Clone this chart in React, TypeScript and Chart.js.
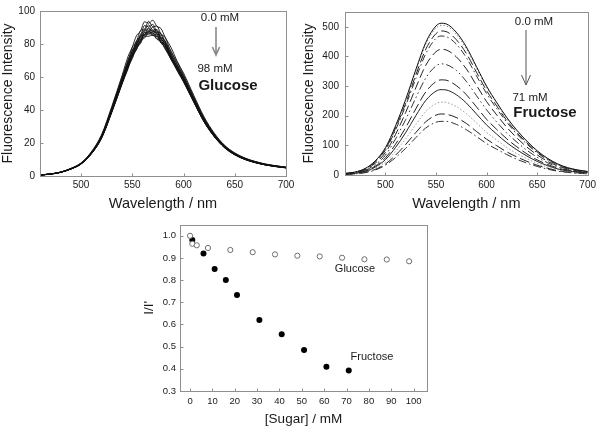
import React, { useEffect, useRef } from 'react';
import { Chart, registerables } from 'chart.js';

Chart.register(...registerables);

const FONT = "'Liberation Sans', Arial, Helvetica, sans-serif";
const TEXT = '#1a1a1a';
const FRAME = '#8f8f8f';

// ---------- Glucose spectra (top-left) ----------
const glucoseWavelengths = [460, 470, 480, 490, 500, 510, 520, 530, 540, 546, 550, 554, 558, 562, 566, 570, 574, 578, 582, 588, 594, 600, 610, 620, 630, 640, 650, 660, 670, 680, 690, 700];
const glucoseConcentrations = [0, 1, 3, 8, 18, 28, 38, 48, 58, 68, 78, 88, 98];
const glucose00 = [0.6, 1.2, 2.4, 4.6, 7.9, 14.6, 25, 42.1, 60.8, 72.6, 78.0, 84.9, 87.7, 93.5, 92.6, 94.4, 90.7, 89.4, 84.2, 77.7, 69.3, 62.4, 48.9, 35.9, 26, 18.7, 14, 10.9, 8.8, 7.3, 6.2, 5.4];
const glucose01 = [0.6, 1.2, 2.3, 4.5, 7.8, 14.3, 24.5, 41.3, 59.7, 69.8, 78.0, 81.3, 88.1, 89.1, 93.8, 90.4, 90.9, 86.0, 84.0, 75.0, 68.9, 61.2, 47.9, 35.2, 25.5, 18.4, 13.8, 10.7, 8.7, 7.1, 6.1, 5.3];
const glucose03 = [0.6, 1.2, 2.3, 4.4, 7.7, 14.1, 24.2, 40.9, 59.1, 70.8, 75.4, 81.9, 84.6, 91.2, 90.3, 91.9, 87.5, 86.4, 81.5, 75.6, 67.4, 60.6, 47.5, 34.8, 25.3, 18.2, 13.6, 10.6, 8.6, 7.1, 6.1, 5.3];
const glucose08 = [0.6, 1.2, 2.3, 4.4, 7.6, 14, 24, 40.5, 58.5, 68.6, 76.2, 79.4, 85.9, 88.0, 91.6, 88.3, 88.8, 84.1, 82.1, 73.3, 67.5, 60, 47, 34.5, 25, 18, 13.5, 10.5, 8.5, 7, 6, 5.2];
const glucose18 = [0.6, 1.2, 2.3, 4.4, 7.5, 13.9, 23.8, 40.1, 57.9, 69.2, 73.5, 80.7, 83.6, 88.7, 87.6, 90.3, 86.2, 85.4, 80.2, 74.1, 65.7, 59.4, 46.5, 34.2, 24.8, 17.8, 13.4, 10.4, 8.4, 6.9, 5.9, 5.1];
const glucose28 = [0.6, 1.2, 2.3, 4.3, 7.5, 13.8, 23.6, 39.9, 57.6, 67.3, 75.7, 78.9, 84.9, 85.6, 89.8, 87.4, 88.1, 82.7, 81.0, 72.3, 66.4, 59.1, 46.3, 34, 24.6, 17.7, 13.3, 10.3, 8.4, 6.9, 5.9, 5.1];
const glucose38 = [0.6, 1.2, 2.3, 4.3, 7.4, 13.7, 23.5, 39.7, 57.3, 68.1, 73.2, 80.3, 82.3, 87.4, 89.1, 86.4, 87.2, 82.9, 80.7, 71.6, 66.2, 58.8, 46.1, 33.8, 24.5, 17.6, 13.2, 10.3, 8.3, 6.9, 5.9, 5.1];
const glucose48 = [0.6, 1.2, 2.2, 4.3, 7.4, 13.7, 23.4, 39.5, 57, 66.4, 74.2, 77.8, 84.4, 85.5, 87.4, 88.5, 84.7, 83.8, 78.9, 72.7, 65.0, 58.5, 45.8, 33.6, 24.4, 17.6, 13.2, 10.2, 8.3, 6.8, 5.9, 5.1];
const glucose58 = [0.6, 1.2, 2.2, 4.3, 7.4, 13.6, 23.3, 39.3, 56.7, 67.6, 72.7, 79.0, 81.3, 87.1, 86.6, 87.4, 86.4, 81.7, 79.5, 71.3, 65.6, 58.2, 45.6, 33.5, 24.3, 17.5, 13.1, 10.2, 8.2, 6.8, 5.8, 5.0];
const glucose68 = [0.6, 1.2, 2.2, 4.2, 7.3, 13.5, 23.2, 39.1, 56.5, 66.1, 73.8, 76.7, 82.8, 84.8, 88.1, 85.5, 85.6, 80.9, 79.5, 71.0, 65.0, 57.9, 45.4, 33.3, 24.1, 17.4, 13, 10.1, 8.2, 6.8, 5.8, 5.0];
const glucose78 = [0.6, 1.2, 2.2, 4.2, 7.3, 13.4, 23, 38.9, 56.2, 66.8, 71.8, 78.1, 80.7, 86.0, 85.9, 86.8, 83.3, 82.3, 77.6, 71.6, 63.9, 57.6, 45.1, 33.1, 24, 17.3, 13, 10.1, 8.2, 6.7, 5.8, 5.0];
const glucose88 = [0.6, 1.1, 2.2, 4.2, 7.3, 13.4, 22.9, 38.7, 55.9, 65.1, 72.6, 76.3, 82.2, 83.6, 86.8, 85.1, 84.6, 80.5, 78.3, 70.4, 64.4, 57.3, 44.9, 32.9, 23.9, 17.2, 12.9, 10, 8.1, 6.7, 5.7, 5.0];
const glucose98 = [0.6, 1.1, 2.2, 4.2, 7.2, 13.3, 22.8, 38.5, 55.6, 66.0, 71.1, 77.2, 80.3, 84.7, 84.7, 85.5, 82.9, 81.4, 77.0, 70.6, 63.5, 57, 44.7, 32.8, 23.8, 17.1, 12.8, 10, 8.1, 6.7, 5.7, 4.9];
const glucoseSpectra = [glucose00, glucose01, glucose03, glucose08, glucose18, glucose28, glucose38, glucose48, glucose58, glucose68, glucose78, glucose88, glucose98];

// ---------- Fructose spectra (top-right) ----------
const fructoseWavelengths = [460, 470, 480, 490, 500, 510, 520, 530, 540, 550, 555, 560, 570, 580, 590, 600, 610, 620, 630, 640, 650, 660, 670, 680, 690, 700];
const fructoseConcentrations = [0, 1, 6, 11, 16, 21, 31, 41, 51, 61, 71];
const fructose00 = [5, 10, 22, 48, 92, 166, 255, 355, 448, 503, 512, 510, 482, 432, 366, 300, 245, 194, 151, 114, 82, 57, 38, 25, 17, 12];
const fructose01 = [5, 10, 22, 47, 91, 164, 251, 350, 442, 496, 505, 503, 475, 426, 361, 296, 242, 191, 149, 112, 81, 56, 37, 25, 17, 12];
const fructose06 = [5, 9, 21, 46, 87, 158, 242, 337, 425, 477, 486, 484, 457, 410, 347, 285, 233, 184, 143, 108, 78, 54, 36, 24, 16, 11];
const fructose11 = [5, 9, 20, 44, 84, 152, 234, 325, 410, 461, 469, 467, 442, 396, 335, 275, 224, 178, 138, 104, 75, 52, 35, 23, 16, 11];
const fructose16 = [4, 8, 18, 40, 76, 137, 211, 294, 371, 416, 424, 422, 399, 358, 303, 248, 203, 161, 125, 94, 68, 47, 31, 21, 14, 10];
const fructose21 = [4, 7, 16, 35, 67, 122, 187, 260, 328, 368, 375, 373, 353, 316, 268, 220, 179, 142, 111, 83, 60, 42, 28, 18, 12, 9];
const fructose31 = [3, 6, 14, 30, 58, 104, 160, 223, 281, 315, 321, 320, 302, 271, 230, 188, 154, 122, 95, 71, 51, 36, 24, 16, 11, 8];
const fructose41 = [3, 6, 12, 27, 52, 93, 143, 200, 252, 283, 288, 287, 271, 243, 206, 169, 138, 109, 85, 64, 46, 32, 21, 14, 10, 7];
const fructose51 = [2, 5, 11, 23, 44, 80, 122, 170, 215, 241, 246, 245, 231, 207, 176, 144, 118, 93, 72, 55, 39, 27, 18, 12, 8, 6];
const fructose61 = [2, 4, 9, 19, 37, 67, 103, 143, 180, 202, 206, 205, 194, 174, 147, 121, 99, 78, 61, 46, 33, 23, 15, 10, 7, 5];
const fructose71 = [2, 4, 8, 17, 33, 59, 90, 126, 159, 178, 181, 181, 171, 153, 130, 106, 87, 69, 53, 40, 29, 20, 13, 9, 6, 4];
const fructoseSpectra = [fructose00, fructose01, fructose06, fructose11, fructose16, fructose21, fructose31, fructose41, fructose51, fructose61, fructose71];

// ---------- Quenching ratio (bottom) ----------
const glucoseSugar = [0, 1, 3, 8, 18, 28, 38, 48, 58, 68, 78, 88, 98];
const glucoseRatio = [1.0, 0.964, 0.957, 0.945, 0.936, 0.926, 0.916, 0.910, 0.907, 0.901, 0.894, 0.893, 0.885];
const fructoseSugar = [1, 6, 11, 16, 21, 31, 41, 51, 61, 71];
const fructoseRatio = [0.981, 0.920, 0.850, 0.801, 0.733, 0.620, 0.556, 0.485, 0.409, 0.392];

// ---------- Tick labels ----------
const spectrumXTicks = [500, 550, 600, 650, 700];
const glucoseYTicks = [0, 20, 40, 60, 80, 100];
const fructoseYTicks = [0, 100, 200, 300, 400, 500];
const sugarXTicks = [0, 10, 20, 30, 40, 50, 60, 70, 80, 90, 100];
const ratioYTicks = [0.3, 0.4, 0.5, 0.6, 0.7, 0.8, 0.9, 1.0];

// line styles of the fructose curves, top to bottom
const fructoseStyles = [
  { dash: [], color: '#111' },
  { dash: [1.5, 2], color: '#888' },
  { dash: [9, 4], color: '#222' },
  { dash: [7, 3, 1.5, 3], color: '#333' },
  { dash: [9, 4], color: '#222' },
  { dash: [8, 3, 1.5, 3, 1.5, 3], color: '#333' },
  { dash: [10, 4], color: '#222' },
  { dash: [], color: '#222' },
  { dash: [1.5, 2], color: '#999' },
  { dash: [10, 4], color: '#222' },
  { dash: [8, 3, 1.5, 3], color: '#333' },
];

const framePlugin = {
  id: 'frameBox',
  afterDraw(chart: any) {
    const { ctx, chartArea: a, scales } = chart;
    const l = Math.round(a.left) + 0.5;
    const t = Math.round(a.top) + 0.5;
    const r = Math.round(a.right) + 0.5;
    const b = Math.round(a.bottom) + 0.5;
    ctx.save();
    ctx.strokeStyle = FRAME;
    ctx.lineWidth = 1;
    ctx.strokeRect(l, t, r - l, b - t);
    ctx.beginPath();
    scales.x.ticks.forEach((tk: any) => {
      const px = Math.round(scales.x.getPixelForValue(tk.value)) + 0.5;
      ctx.moveTo(px, b);
      ctx.lineTo(px, b - 3);
    });
    scales.y.ticks.forEach((tk: any) => {
      const py = Math.round(scales.y.getPixelForValue(tk.value)) + 0.5;
      ctx.moveTo(l, py);
      ctx.lineTo(l + 3, py);
    });
    ctx.stroke();
    ctx.restore();
  },
};

type Note =
  | { kind: 'text'; x: number; y: number; text: string; size: number; bold?: boolean }
  | { kind: 'arrow'; x: number; y1: number; y2: number; color: string; width: number; head: number };

function notesPlugin(notes: Note[]) {
  return {
    id: 'notes',
    afterDraw(chart: any) {
      const ctx = chart.ctx;
      ctx.save();
      notes.forEach((n) => {
        if (n.kind === 'text') {
          ctx.font = `${n.bold ? 'bold ' : ''}${n.size}px ${FONT}`;
          ctx.fillStyle = TEXT;
          ctx.textAlign = 'center';
          ctx.textBaseline = 'middle';
          ctx.fillText(n.text, n.x, n.y);
        } else {
          ctx.strokeStyle = n.color;
          ctx.lineWidth = n.width;
          ctx.beginPath();
          ctx.moveTo(n.x, n.y1);
          ctx.lineTo(n.x, n.y2);
          ctx.moveTo(n.x - n.head * 0.45, n.y2 - n.head);
          ctx.lineTo(n.x, n.y2);
          ctx.lineTo(n.x + n.head * 0.45, n.y2 - n.head);
          ctx.stroke();
        }
      });
      ctx.restore();
    },
  };
}

function axis(o: {
  min: number; max: number; ticks: number[]; horizontal: boolean; size: number;
  title: string; titleSize: number; tickSize: number; pad: number; titlePad: number;
  fmt?: (v: number) => string;
}) {
  return {
    type: 'linear',
    min: o.min,
    max: o.max,
    grid: { display: false, drawTicks: false },
    border: { display: false },
    ticks: {
      font: { family: FONT, size: o.tickSize },
      color: TEXT,
      padding: o.pad,
      maxRotation: 0,
      autoSkip: false,
      callback: (v: any) => (o.fmt ? o.fmt(Number(v)) : String(v)),
    },
    title: {
      display: true,
      text: o.title,
      color: TEXT,
      font: { family: FONT, size: o.titleSize },
      padding: o.horizontal ? { top: 0, bottom: o.titlePad } : { top: o.titlePad, bottom: 0 },
    },
    afterBuildTicks: (s: any) => {
      s.ticks = o.ticks.map((v) => ({ value: v }));
    },
    afterFit: (s: any) => {
      if (o.horizontal) s.height = o.size;
      else s.width = o.size;
    },
  };
}

function baseOptions(padding: any, x: any, y: any) {
  return {
    responsive: false,
    animation: false,
    events: [],
    layout: { padding },
    plugins: { legend: { display: false }, tooltip: { enabled: false } },
    scales: { x, y },
  };
}

function glucoseConfig() {
  return {
    type: 'line',
    data: {
      datasets: glucoseSpectra.map((s, i) => ({
        label: `${glucoseConcentrations[i]} mM`,
        data: s.map((v, j) => ({ x: glucoseWavelengths[j], y: v })),
        borderColor: '#111',
        borderWidth: 0.9,
        pointRadius: 0,
        cubicInterpolationMode: 'monotone',
        fill: false,
      })),
    },
    options: baseOptions(
      { top: 4, right: 14, left: 0, bottom: 0 },
      axis({ min: 460, max: 700, ticks: spectrumXTicks, horizontal: true, size: 39, title: 'Wavelength / nm', titleSize: 14.5, tickSize: 10, pad: 3, titlePad: 2 }),
      axis({ min: 0, max: 100, ticks: glucoseYTicks, horizontal: false, size: 40, title: 'Fluorescence Intensity', titleSize: 14, tickSize: 10, pad: 5, titlePad: 0 })
    ),
    plugins: [
      framePlugin,
      notesPlugin([
        { kind: 'text', x: 220, y: 18, text: '0.0 mM', size: 11.5 },
        { kind: 'arrow', x: 216, y1: 27, y2: 55, color: '#8a8a8a', width: 1.6, head: 8 },
        { kind: 'text', x: 215, y: 69, text: '98 mM', size: 11.5 },
        { kind: 'text', x: 228, y: 86, text: 'Glucose', size: 15, bold: true },
      ]),
    ],
  };
}

function fructoseConfig() {
  return {
    type: 'line',
    data: {
      datasets: fructoseSpectra.map((s, i) => ({
        label: `${fructoseConcentrations[i]} mM`,
        data: s.map((v, j) => ({ x: fructoseWavelengths[j], y: v })),
        borderColor: fructoseStyles[i].color,
        borderDash: fructoseStyles[i].dash,
        borderWidth: 1,
        pointRadius: 0,
        cubicInterpolationMode: 'monotone',
        fill: false,
      })),
    },
    options: baseOptions(
      { top: 4, right: 8, left: 0, bottom: 0 },
      axis({ min: 460, max: 700, ticks: spectrumXTicks, horizontal: true, size: 40, title: 'Wavelength / nm', titleSize: 14.5, tickSize: 10, pad: 4, titlePad: 2 }),
      axis({ min: 0, max: 550, ticks: fructoseYTicks, horizontal: false, size: 45, title: 'Fluorescence Intensity', titleSize: 14, tickSize: 10, pad: 6, titlePad: 1 })
    ),
    plugins: [
      framePlugin,
      notesPlugin([
        { kind: 'text', x: 234, y: 22, text: '0.0 mM', size: 11.5 },
        { kind: 'arrow', x: 226, y1: 30, y2: 85, color: '#555', width: 1, head: 10 },
        { kind: 'text', x: 230, y: 98, text: '71 mM', size: 11.5 },
        { kind: 'text', x: 245, y: 113, text: 'Fructose', size: 15, bold: true },
      ]),
    ],
  };
}

function ratioConfig() {
  return {
    type: 'scatter',
    data: {
      datasets: [
        {
          label: 'Glucose',
          data: glucoseSugar.map((x, i) => ({ x, y: glucoseRatio[i] })),
          pointRadius: 2.6,
          pointBorderWidth: 1,
          borderColor: '#6e6e6e',
          backgroundColor: '#ffffff',
          showLine: false,
        },
        {
          label: 'Fructose',
          data: fructoseSugar.map((x, i) => ({ x, y: fructoseRatio[i] })),
          pointRadius: 3,
          pointBorderWidth: 0,
          borderColor: '#000',
          backgroundColor: '#000',
          showLine: false,
        },
      ],
    },
    options: baseOptions(
      { top: 4, right: 13, left: 0, bottom: 0 },
      axis({ min: -4.5, max: 106, ticks: sugarXTicks, horizontal: true, size: 38, title: '[Sugar] / mM', titleSize: 13.5, tickSize: 9.5, pad: 5, titlePad: 2 }),
      axis({ min: 0.3, max: 1.05, ticks: ratioYTicks, horizontal: false, size: 40, title: "I/I'", titleSize: 13.5, tickSize: 9.5, pad: 4, titlePad: 1, fmt: (v) => v.toFixed(1) })
    ),
    plugins: [
      framePlugin,
      notesPlugin([
        { kind: 'text', x: 215, y: 54, text: 'Glucose', size: 11 },
        { kind: 'text', x: 232, y: 142, text: 'Fructose', size: 11 },
      ]),
    ],
  };
}

function ChartBox(props: { left: number; top: number; width: number; height: number; make: () => any }) {
  const ref = useRef<HTMLCanvasElement>(null);
  useEffect(() => {
    const chart = new Chart(ref.current as HTMLCanvasElement, props.make());
    return () => chart.destroy();
  }, []);
  return (
    <canvas
      ref={ref}
      width={props.width}
      height={props.height}
      style={{ position: 'absolute', left: props.left, top: props.top, width: props.width, height: props.height }}
    />
  );
}

export default function App() {
  return (
    <div style={{ position: 'absolute', left: 0, top: 0, width: 600, height: 429, background: '#ffffff', overflow: 'hidden' }}>
      <ChartBox left={0} top={0} width={300} height={215} make={glucoseConfig} />
      <ChartBox left={300} top={0} width={300} height={215} make={fructoseConfig} />
      <ChartBox left={140} top={215} width={300} height={214} make={ratioConfig} />
    </div>
  );
}
